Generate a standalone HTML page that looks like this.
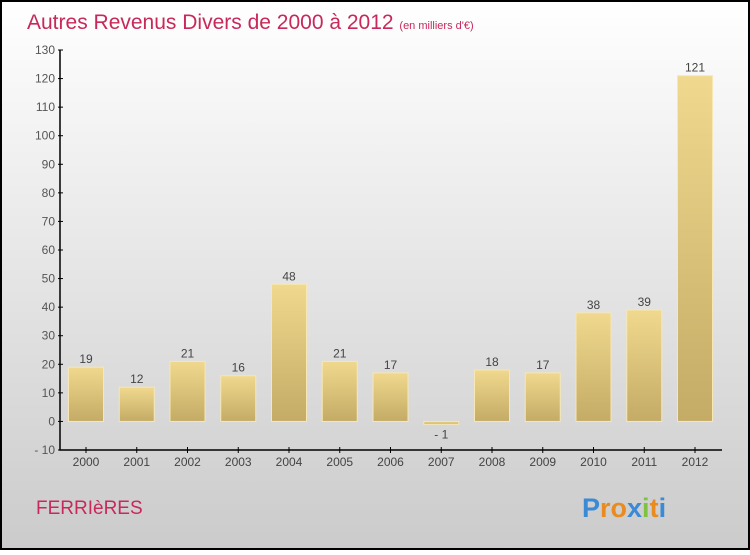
<!DOCTYPE html>
<html><head><meta charset="utf-8"><style>
body{margin:0;}
#c{width:750px;height:550px;}
</style></head><body>
<svg id="c" width="750" height="550" xmlns="http://www.w3.org/2000/svg" font-family="Liberation Sans, sans-serif">
<defs>
<linearGradient id="bg" x1="0" y1="0" x2="0" y2="1"><stop offset="0" stop-color="#ffffff"/><stop offset="1" stop-color="#cbcbcb"/></linearGradient>
<linearGradient id="bar" x1="0" y1="0" x2="0" y2="1"><stop offset="0" stop-color="#f0d98e"/><stop offset="1" stop-color="#c4ab66"/></linearGradient>
</defs>
<rect x="1" y="1" width="748" height="548" fill="url(#bg)" stroke="#000" stroke-width="2"/>
<text x="27" y="29" font-size="21" fill="#c8285a">Autres Revenus Divers de 2000 à 2012 <tspan font-size="11">(en milliers d'€)</tspan></text>
<g id="plot"></g>
<text x="36" y="514" font-size="19" fill="#c8285a">FERRIèRES</text>
<g font-size="27" font-weight="bold">
<text x="582" y="517"><tspan fill="#3a8ad6">P</tspan><tspan fill="#e98b1f">ro</tspan><tspan fill="#3a8ad6">x</tspan><tspan fill="#7fc241">i</tspan><tspan fill="#e98b1f">t</tspan><tspan fill="#3a8ad6">i</tspan></text>
</g>
</svg>
<script>
const categories=["2000","2001","2002","2003","2004","2005","2006","2007","2008","2009","2010","2011","2012"];
const values=[19,12,21,16,48,21,17,-1,18,17,38,39,121];
const yTicks=[-10,0,10,20,30,40,50,60,70,80,90,100,110,120,130];
const NS="http://www.w3.org/2000/svg";
const g=document.getElementById('plot');
const x0=60,x1=722,yTop=50,yBot=450,vmin=-10,vmax=130;
const y=v=>yBot-(v-vmin)/(vmax-vmin)*(yBot-yTop);
const step=50.75,first=86,bw=35;
const xc=i=>first+i*step;
function mk(t,a){const e=document.createElementNS(NS,t);for(const k in a)e.setAttribute(k,a[k]);g.appendChild(e);return e;}
let ax=mk('path',{d:`M${x0} ${yTop}V${yBot}H${x1}`,stroke:'#000',fill:'none','stroke-width':1.5});


yTicks.forEach(v=>{
 const tk=mk('line',{x1:x0-2,x2:x0+3,y1:y(v),y2:y(v),stroke:'#000'});
 
 
 const t=mk('text',{x:x0-5,y:y(v)+4,'font-size':12,fill:'#555','text-anchor':'end'});
 t.textContent=v<0?'- '+Math.abs(v):v;
 
 
});
categories.forEach((c,i)=>{
 const v=values[i];
 const top=Math.min(y(v),y(0)),h=Math.max(Math.abs(y(v)-y(0)),1.5);
 const r=mk('rect',{x:xc(i)-bw/2,y:top,width:bw,height:h,fill:'url(#bar)',stroke:'#f6e7b4','stroke-width':1});
 
 
 const tk=mk('line',{x1:xc(i),x2:xc(i),y1:yBot-3,y2:yBot+3,stroke:'#000'});
 
 
 const xl=mk('text',{x:xc(i),y:yBot+16,'font-size':12,fill:'#444','text-anchor':'middle'});
 xl.textContent=c;
 
 
 const vl=mk('text',{x:xc(i),y:v<0?y(v)+14:y(v)-4,'font-size':12,fill:'#444','text-anchor':'middle'});
 vl.textContent=v<0?'- '+Math.abs(v):v;
 
 
});
</script>
</body></html>
